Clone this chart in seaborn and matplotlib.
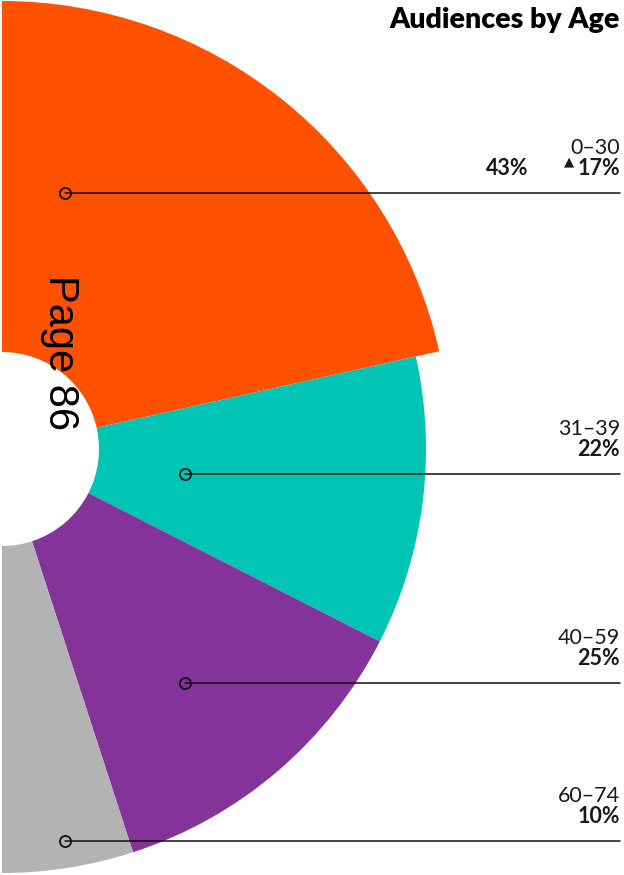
"""
Audiences by Age - half donut with leader-line labels.
"""
import matplotlib
matplotlib.use("Agg")
import matplotlib.pyplot as plt
from matplotlib.patches import Wedge
import seaborn as sns

# data
age_groups = ["0–30", "31–39", "40–59", "60–74"]
shares = [43, 22, 25, 10]
changes = ["17%", None, None, None]
colors = ["#FF5100", "#00C4B4", "#833399", "#B3B3B3"]

# layout (pixels, measured from the top of the canvas)
W, H = 624, 875
center = (2, 449)
inner_r = 97
outer_r = [448, 424, 424, 424]
line_y = [193, 474, 683, 841]
dot_x = [65, 185, 185, 65]
line_end = 620


def py(y):
    """top-down pixel -> axes y"""
    return H - y


sns.set_theme(style="white")
plt.rcParams["font.family"] = ["Lato", "DejaVu Sans"]

fig = plt.figure(figsize=(W / 100, H / 100), dpi=100)
ax = fig.add_axes([0, 0, 1, 1])
ax.set_xlim(0, W)
ax.set_ylim(0, H)
ax.set_aspect("equal")
ax.axis("off")
renderer = fig.canvas.get_renderer()

# wedges, clockwise from the top
start = 90.0
for share, col, r in zip(shares, colors, outer_r):
    span = share / sum(shares) * 180.0
    ax.add_patch(Wedge((center[0], py(center[1])), r, start - span, start,
                       width=r - inner_r, facecolor=col, edgecolor="none"))
    start -= span

# leader lines + labels
fs = 15.5
for grp, share, chg, y, x0 in zip(age_groups, shares, changes, line_y, dot_x):
    ax.plot([x0, line_end], [py(y), py(y)], color="#111111", lw=1.1, zorder=3)
    ax.plot(x0, py(y), marker="o", ms=8, mfc="none", mec="#111111",
            mew=1.3, zorder=4)
    ax.text(line_end, py(y - 39), grp, ha="right", va="baseline",
            fontsize=fs, color="#1a1a1a")
    if chg is None:
        ax.text(line_end, py(y - 18), f"{share}%", ha="right", va="baseline",
                fontsize=fs, fontweight="bold", color="#1a1a1a")
    else:
        t = ax.text(line_end, py(y - 18), chg, ha="right", va="baseline",
                    fontsize=fs, fontweight="bold", color="#1a1a1a")
        left = t.get_window_extent(renderer).x0
        ax.text(left - 3, py(y - 28), "▲", ha="right", va="baseline",
                fontsize=9.5, color="#1a1a1a", family=["DejaVu Sans"])
        ax.text(line_end - 92, py(y - 18), f"{share}%", ha="right",
                va="baseline", fontsize=fs, fontweight="bold", color="#1a1a1a")

ax.text(line_end, py(28), "Audiences by Age", ha="right", va="baseline",
        fontsize=20.5, fontweight="heavy", color="#000000")

ax.text(60, py(353), "Page 86", rotation=-90, ha="center", va="center",
        fontsize=30, color="#000000", family=["Liberation Sans", "DejaVu Sans"])

fig.savefig("out.png", dpi=100)
